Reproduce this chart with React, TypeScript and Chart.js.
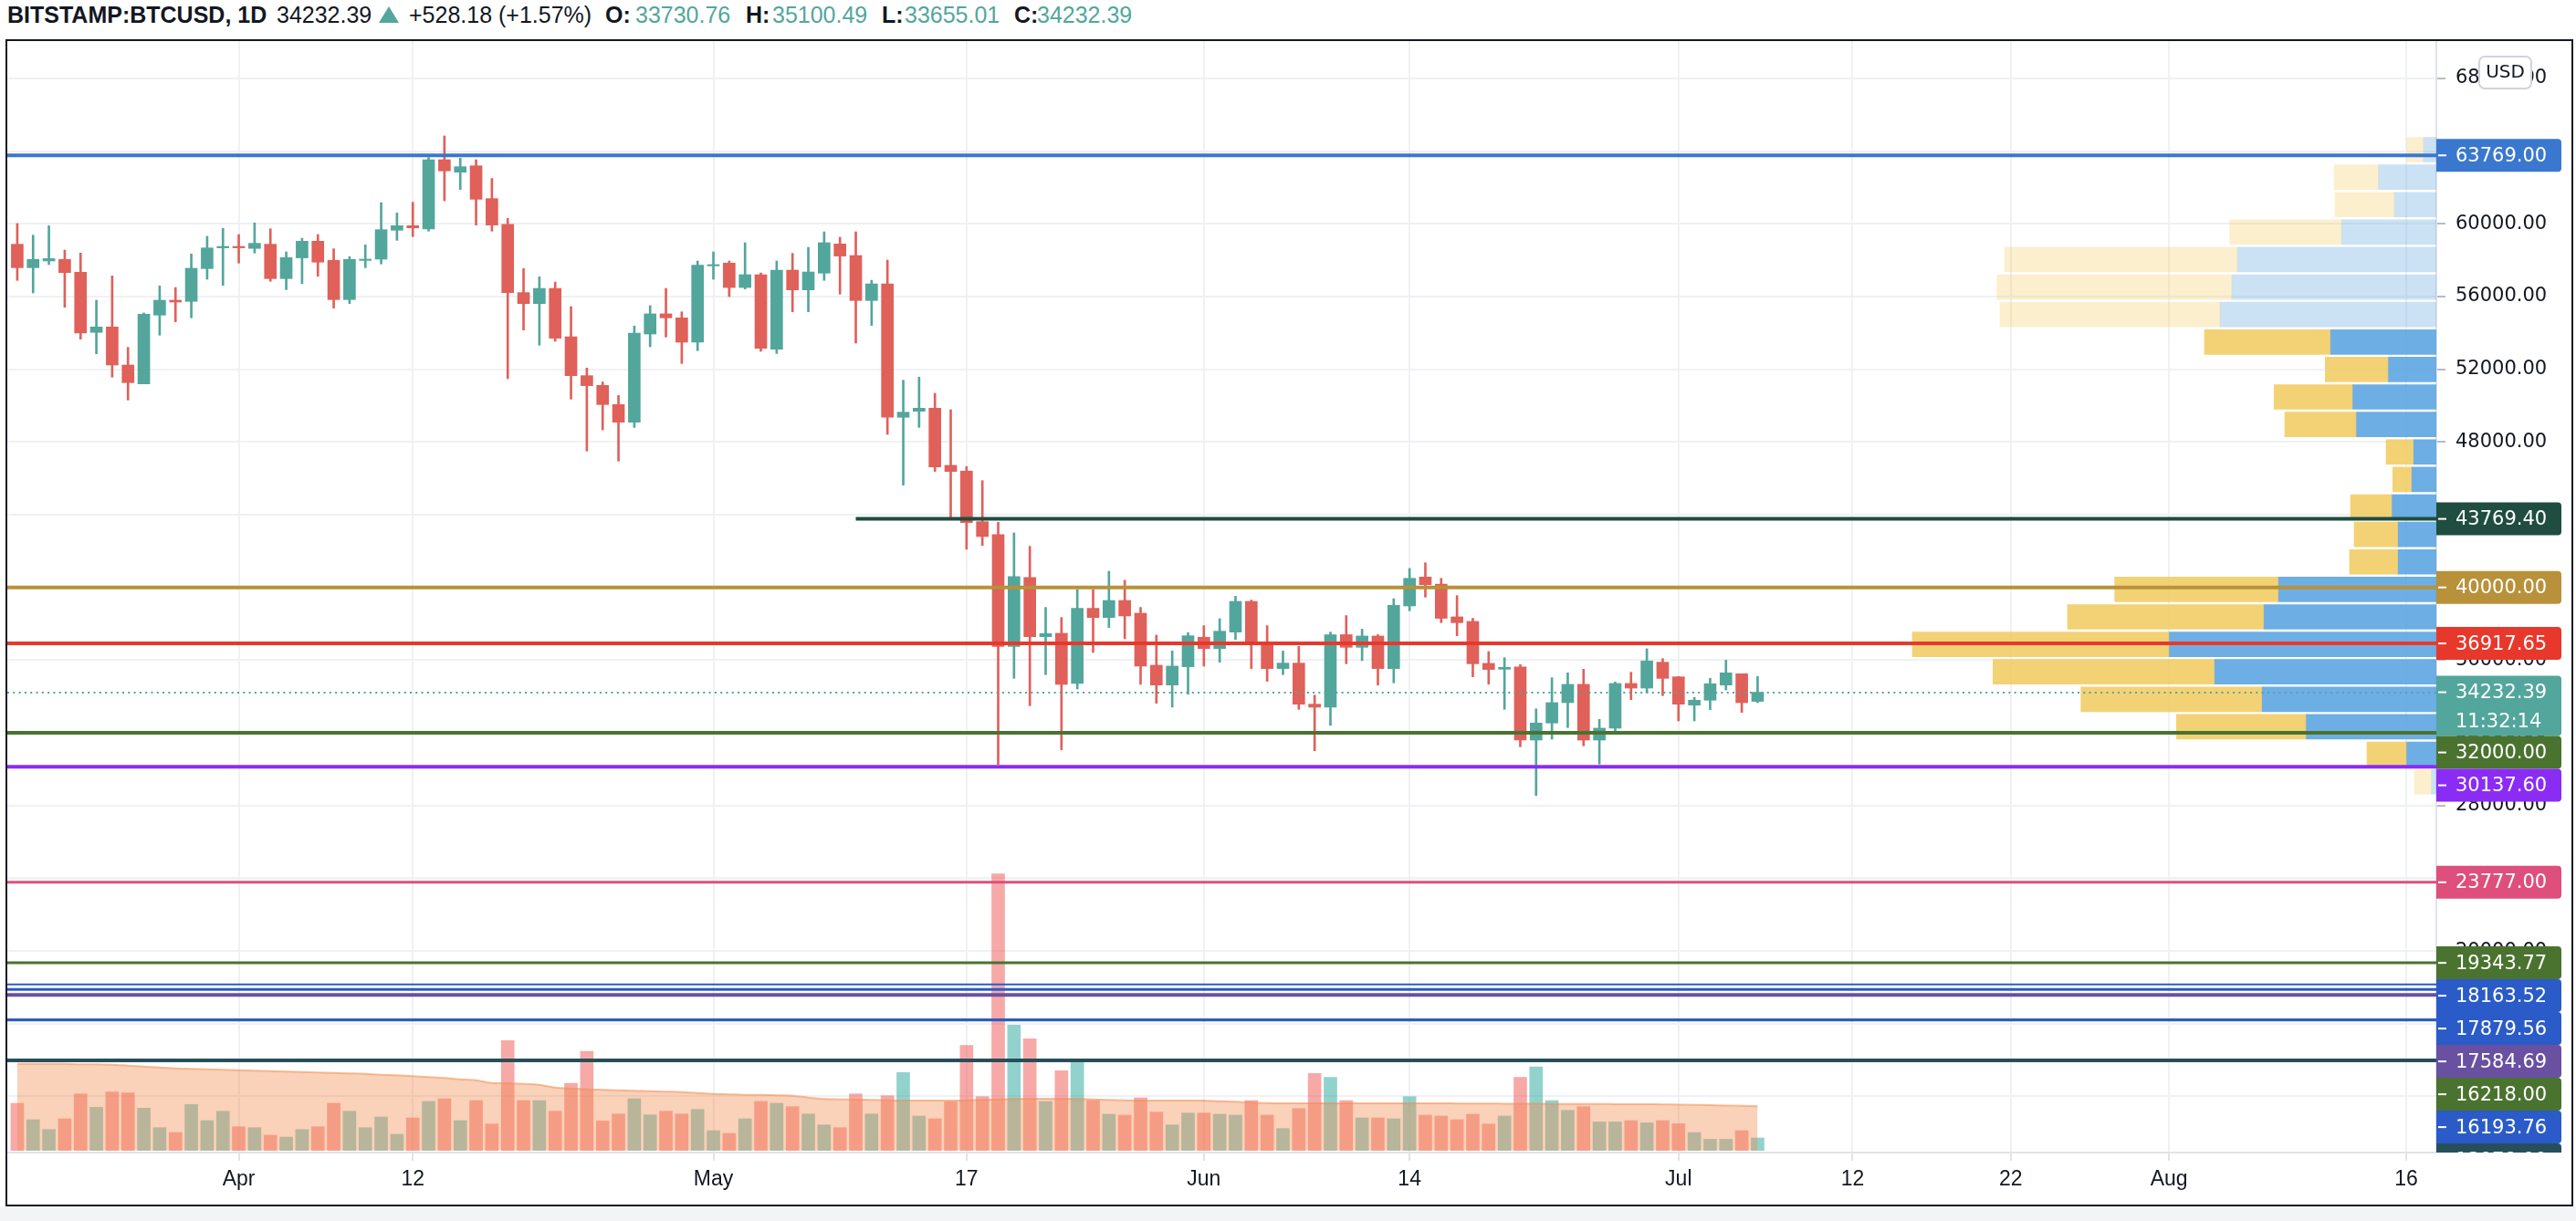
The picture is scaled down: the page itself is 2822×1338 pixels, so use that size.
import React, { useEffect, useRef } from 'react';
import { Chart, registerables } from 'chart.js';

Chart.register(...registerables);

// ---------- DATA ----------
const FIRST_DAY = -14; // Mar 18, counted in days from Apr 1
const OPEN = [
  58880, 57590, 57960, 58045, 57340, 54030, 54330, 52235, 51195, 54980, 55800, 55735, 57540, 58680,
  58760, 58650, 58880, 56990, 58130, 59045, 57995, 55835, 57990, 58060, 59650, 59900, 59715, 63530, 62845, 63195,
  61390, 59980, 56220, 55615, 56450, 53790, 51650, 51115, 50060, 49090, 53940, 55050, 54830, 53490,
  57690, 57845, 56500, 57205, 53100, 57455, 56370, 57290, 58895, 58260, 55785, 56700, 49360, 49690, 49860,
  46715, 46400, 43615, 42900, 36755, 40550, 37290, 37475, 34715, 38850, 38345, 39280, 38580, 35720, 34630, 35635,
  37255, 36635, 37540, 39230, 36885, 35535, 35835, 33575, 33410, 37400, 36705, 37325, 35535, 38980, 40570,
  40180, 38380, 38130, 35820, 35500, 35620, 31600, 32540, 33660, 34665, 31600, 32255, 34715, 34460, 35885,
  35080, 33525, 33795, 34630, 35250, 33730.76,
];
const HIGH = [
  60020, 59380, 59900, 58560, 58395, 55800, 57140, 53205, 55100, 56590, 56500, 58345, 59315, 59750,
  59415, 60050, 59730, 58460, 59214, 59415, 58630, 58200, 58845, 61172, 60605, 61190, 63650, 64840, 63615, 63530,
  62500, 60300, 57540, 57090, 56800, 55450, 52070, 51300, 50560, 54380, 55500, 56450, 55160, 57960,
  58460, 57960, 58963, 57300, 57960, 58380, 58710, 59565, 59265, 59565, 56900, 58010, 51400, 51570, 50680,
  49775, 46650, 45875, 43585, 43000, 42260, 38900, 38345, 39885, 39885, 40890, 40390, 38900, 37375, 36505, 37510,
  37895, 38280, 39515, 39300, 37895, 36500, 36755, 34075, 37540, 38450, 37700, 37400, 39380, 41040, 41355,
  40500, 39550, 38300, 36470, 36135, 35750, 33320, 35030, 35300, 35500, 32740, 34800, 35330, 36620, 36085,
  35100, 33950, 35000, 36000, 35250, 35100.49,
];
const LOW = [
  56890, 56200, 57760, 55410, 53660, 52850, 51570, 50310, 51195, 53876, 54610, 54830, 56955, 56620,
  57845, 58395, 56840, 56385, 56720, 57120, 55365, 55616, 57590, 57795, 59095, 59300, 59600, 61270, 61890, 59935,
  59600, 51482, 54160, 53325, 53540, 50360, 47500, 48670, 46950, 48800, 53240, 53775, 52320, 53025,
  56955, 56000, 56420, 52990, 52870, 55160, 55160, 56890, 56135, 53440, 54410, 48420, 45625, 48805, 46380,
  43800, 42100, 42300, 30260, 35000, 33490, 35200, 31065, 34410, 36420, 37790, 37175, 34665, 33625, 33410, 34125,
  35670, 35885, 37140, 35535, 34835, 35200, 33290, 31015, 32405, 35800, 35970, 34630, 34750, 38715, 39465,
  38060, 37340, 35080, 34670, 33290, 31235, 28555, 31650, 32290, 31285, 30280, 32100, 33825, 34210, 34045,
  32655, 32655, 33275, 34360, 33125, 33655.01,
];
const CLOSE = [
  57590, 58045, 58090, 57320, 53990, 54330, 52235, 51266, 55030, 55800, 55700, 57557, 58677, 58760,
  58680, 58930, 56990, 58145, 59045, 57895, 55835, 58045, 58060, 59680, 59900, 59780, 63530, 62915, 63145, 61355,
  59935, 56220, 55615, 56450, 53710, 51650, 51100, 50060, 49090, 53990, 55050, 54830, 53490, 57725,
  57760, 56500, 57205, 53160, 57455, 56370, 57355, 58963, 58230, 55785, 56700, 49360, 49640, 49860, 46630,
  46380, 43565, 42800, 36755, 40600, 37290, 37460, 34665, 38850, 38345, 39280, 38430, 35670, 34630, 35670, 37340,
  36635, 37590, 39230, 36885, 35535, 35835, 33575, 33410, 37400, 36705, 37325, 35535, 39015, 40500, 40150,
  38300, 38060, 35800, 35485, 35600, 31600, 32540, 33660, 34665, 31600, 32255, 34715, 34460, 35955, 34995,
  33575, 33795, 34700, 35300, 33660, 34232.39,
];
const VOLUME = [
  5170, 3370, 2300, 3470, 6200, 4730, 6400, 6300, 4630, 2500, 1970, 5030, 3270, 4300,
  2600, 2500, 1670, 1470, 2300, 2600, 5170, 4300, 2500, 3670, 1770, 3570, 5370, 5670, 3270, 5470,
  2900, 12030, 5470, 5470, 4300, 7370, 10870, 3230, 4000, 5670, 3900, 4300, 4000, 4500,
  2170, 1870, 3470, 5370, 5170, 4800, 4000, 2800, 2500, 6200, 4000, 6000, 8530,
  3770, 3470, 5330, 11500, 5900, 30300, 13730, 12230, 5370, 8730, 9670, 5470, 3970, 3870, 5770, 4200, 2800, 4100,
  4100, 3970, 3870, 5470, 3870, 2400, 4600, 8430, 8000, 5470, 3570, 3570, 3470, 5900, 3870,
  3770, 3370, 3970, 2900, 3770, 8000, 9170, 5470, 4400, 4800, 3130, 3130, 3270, 3030, 3270,
  2930, 1970, 1230, 1230, 2170, 1370,
];
const VOLUME_MA = [
  9500, 9500, 9500, 9500, 9450, 9450, 9400, 9300, 9200, 9100, 9000, 8950, 8900, 8850, 8800,
  8750, 8700, 8650, 8600, 8550, 8500, 8450, 8400, 8300, 8250, 8150, 8050, 7950, 7800, 7700,
  7400, 7350, 7300, 7200, 6900, 6800, 6700, 6650, 6600, 6550, 6500, 6450, 6400, 6300, 6200,
  6150, 6100, 6100, 6050, 6000, 5800, 5650, 5600, 5570, 5550, 5500, 5470, 5470, 5470, 5470,
  5500, 5550, 5600, 5650, 5670, 5670, 5670, 5650, 5600, 5550, 5500, 5470, 5470, 5470, 5470,
  5470, 5400, 5350, 5250, 5200, 5170, 5170, 5170, 5170, 5170, 5170, 5170, 5170, 5170, 5170,
  5170, 5150, 5150, 5150, 5130, 5130, 5120, 5100, 5100, 5100, 5100, 5080, 5070, 5070, 5050,
  5030, 5000, 4970, 4930, 4900, 4850,
];

const X_TICK_DAYS = [0, 11, 30, 46, 61, 74, 91, 102, 112, 122, 137];
const X_TICK_LABELS = ['Apr', '12', 'May', '17', 'Jun', '14', 'Jul', '12', '22', 'Aug', '16'];
const PRICE_TICKS = [12000, 16000, 20000, 24000, 28000, 32000, 36000, 40000, 44000, 48000, 52000, 56000, 60000, 64000, 68000];

// visible range volume profile (price rows, up / down volume)
const VP_PRICES = [64084, 62572, 61060, 59548, 58036, 56524, 55012, 53500, 51988, 50476, 48964, 47452,
  45940, 44428, 42916, 41404, 39892, 38380, 36868, 35356, 33844, 32332, 30820, 29308];
const VP_UP = [140, 633, 460, 1037, 2180, 2240, 2370, 1163, 530, 920, 880, 253, 273, 490, 423, 423, 1733, 1893, 2930, 2433, 1913, 1430, 330, 53];
const VP_DOWN = [183, 487, 650, 1226, 2550, 2573, 2410, 1377, 687, 857, 780, 297, 204, 450, 477, 527, 1790, 2147, 2810, 2424, 1980, 1417, 430, 187];
const VP_IN_VALUE_AREA = [false, false, false, false, false, false, false, true, true, true, true, true,
  true, true, true, true, true, true, true, true, true, true, true, false];

// horizontal levels
const LEVEL_VALUES = [63769, 43769.4, 40000, 36917.65, 32000, 30137.6, 23777, 19343.77, 18163.52, 17879.56, 17584.69, 16218, 16193.76, 13978];
const LEVEL_COLORS = ['#3a78cf', '#1f4d3f', '#b8913a', '#e8382c', '#4a7330', '#8b2cf5', '#de4f7b', '#4a7330', '#2a5bc8', '#2a5bc8', '#6950a1', '#4a7330', '#2a5bc8', '#264f5a'];
const LEVEL_WIDTHS = [4, 4, 4, 4, 4, 4, 3, 3, 2, 3, 4, 3, 3, 4];
const LEVEL_START_DAY: (number | null)[] = [null, 39, null, null, null, null, null, null, null, null, null, null, null, null];

const LAST_PRICE = 34232.39;
const COUNTDOWN = '11:32:14';

// ---------- STYLE ----------
const UP = '#53a69b';
const DOWN = '#e0605a';
const GRID = '#eff1f4';
const TEXT = '#131722';
const W = 2809;
const H = 1275;
const XMIN = -14.63;
const XMAX = 138.9;
const YMIN = 8907;
const YMAX = 70058;
const VOL_MIN = -230;
const VOL_MAX = 121570;
const VP_MAX = 26610;

const isUp = CLOSE.map((c, i) => c >= OPEN[i]);
const candleColors = isUp.map((u) => (u ? UP : DOWN));

const levelsPlugin = {
  id: 'levels',
  afterDatasetsDraw(chart: any) {
    const { ctx, chartArea, scales } = chart;
    const { left, right, top, bottom } = chartArea;
    const x = scales.x;
    const y = scales.y;
    ctx.save();
    ctx.beginPath();
    ctx.rect(left, top, right - left, bottom - top);
    ctx.clip();
    const lp = Math.round(y.getPixelForValue(LAST_PRICE));
    ctx.strokeStyle = UP;
    ctx.lineWidth = 2;
    ctx.setLineDash([2, 4.3]);
    ctx.beginPath();
    ctx.moveTo(left, lp);
    ctx.lineTo(right, lp);
    ctx.stroke();
    ctx.setLineDash([]);
    LEVEL_VALUES.forEach((v, i) => {
      const py = y.getPixelForValue(v);
      const sd = LEVEL_START_DAY[i];
      const sx = sd == null ? left : x.getPixelForValue(sd);
      ctx.strokeStyle = LEVEL_COLORS[i];
      ctx.lineWidth = LEVEL_WIDTHS[i];
      ctx.beginPath();
      ctx.moveTo(sx, py);
      ctx.lineTo(right, py);
      ctx.stroke();
    });
    ctx.restore();
  },
  afterDraw(chart: any) {
    const { ctx, chartArea, scales } = chart;
    const y = scales.y;
    const right = chartArea.right;
    const items: { v: number; color: string; t1: string; t2?: string }[] = LEVEL_VALUES.map((v, i) => ({
      v,
      color: LEVEL_COLORS[i],
      t1: v.toFixed(2),
    }));
    items.push({ v: LAST_PRICE, color: UP, t1: LAST_PRICE.toFixed(2), t2: COUNTDOWN });
    const placed = items
      .map((it) => ({ ...it, py: y.getPixelForValue(it.v) }))
      .sort((a, b) => a.py - b.py);
    ctx.save();
    ctx.beginPath();
    ctx.rect(0, 0, chart.width, chartArea.bottom);
    ctx.clip();
    let prevBottom = -1e9;
    const boxW = 137;
    ctx.font = '21px "DejaVu Sans"';
    ctx.textBaseline = 'middle';
    ctx.textAlign = 'left';
    placed.forEach((it) => {
      const h = it.t2 ? 66 : 36;
      let topY = it.py - 18;
      if (topY < prevBottom) topY = prevBottom;
      prevBottom = topY + h;
      ctx.fillStyle = it.color;
      ctx.beginPath();
      ctx.roundRect(right, topY, boxW, h, [0, 4, 4, 0]);
      ctx.fill();
      ctx.strokeStyle = '#ffffff';
      ctx.lineWidth = 2;
      ctx.beginPath();
      ctx.moveTo(right + 2, topY + 18);
      ctx.lineTo(right + 11, topY + 18);
      ctx.stroke();
      ctx.fillStyle = '#ffffff';
      ctx.fillText(it.t1, right + 21, topY + 19);
      if (it.t2) ctx.fillText(it.t2, right + 21, topY + 51);
    });
    ctx.restore();
    ctx.save();
    ctx.fillStyle = '#ffffff';
    ctx.strokeStyle = '#d1d4dc';
    ctx.lineWidth = 2;
    ctx.beginPath();
    ctx.roundRect(right + 47, 17, 57, 35, 6);
    ctx.fill();
    ctx.stroke();
    ctx.fillStyle = TEXT;
    ctx.font = '20px "DejaVu Sans"';
    ctx.textAlign = 'center';
    ctx.textBaseline = 'middle';
    ctx.fillText('USD', right + 75.5, 35);
    ctx.restore();
  },
};

export default function App() {
  const ref = useRef<HTMLCanvasElement>(null);

  useEffect(() => {
    const canvas = ref.current;
    if (!canvas) return;
    const chart = new Chart(canvas, {
      type: 'bar',
      data: {
        datasets: [
          {
            type: 'bar',
            label: 'VP up',
            indexAxis: 'y',
            xAxisID: 'xvp',
            yAxisID: 'y',
            data: VP_PRICES.map((p, i) => ({ y: p, x: [0, VP_UP[i]] })),
            backgroundColor: VP_IN_VALUE_AREA.map((v) => (v ? 'rgba(84,160,223,0.85)' : 'rgba(84,160,223,0.3)')),
            borderWidth: 0,
            barThickness: 27,
            grouped: false,
            order: 7,
          } as any,
          {
            type: 'bar',
            label: 'VP down',
            indexAxis: 'y',
            xAxisID: 'xvp',
            yAxisID: 'y',
            data: VP_PRICES.map((p, i) => ({ y: p, x: [VP_UP[i], VP_UP[i] + VP_DOWN[i]] })),
            backgroundColor: VP_IN_VALUE_AREA.map((v) => (v ? 'rgba(241,202,94,0.85)' : 'rgba(241,202,94,0.3)')),
            borderWidth: 0,
            barThickness: 27,
            grouped: false,
            order: 6,
          } as any,
          {
            type: 'bar',
            label: 'Volume',
            xAxisID: 'x',
            yAxisID: 'yv',
            data: VOLUME.map((v, i) => ({ x: FIRST_DAY + i, y: v })),
            backgroundColor: isUp.map((u) => (u ? 'rgba(38,166,154,0.5)' : 'rgba(239,83,80,0.5)')),
            borderWidth: 0,
            barThickness: 14,
            grouped: false,
            order: 5,
          } as any,
          {
            type: 'line',
            label: 'Volume MA',
            xAxisID: 'x',
            yAxisID: 'yv',
            data: VOLUME_MA.map((v, i) => ({ x: FIRST_DAY + i, y: v })),
            borderColor: 'rgba(242,140,80,0.55)',
            borderWidth: 2,
            backgroundColor: 'rgba(242,140,80,0.4)',
            fill: 'origin',
            pointRadius: 0,
            tension: 0.3,
            order: 4,
          } as any,
          {
            type: 'bar',
            label: 'Wick',
            xAxisID: 'x',
            yAxisID: 'y',
            data: LOW.map((l, i) => ({ x: FIRST_DAY + i, y: [l, HIGH[i]] })),
            backgroundColor: candleColors,
            borderWidth: 0,
            barThickness: 2,
            grouped: false,
            order: 3,
          } as any,
          {
            type: 'bar',
            label: 'Body',
            xAxisID: 'x',
            yAxisID: 'y',
            data: OPEN.map((o, i) => ({ x: FIRST_DAY + i, y: [o, CLOSE[i]] })),
            backgroundColor: candleColors,
            borderWidth: 0,
            barThickness: 13,
            grouped: false,
            order: 2,
          } as any,
        ],
      },
      options: {
        animation: false,
        responsive: false,
        devicePixelRatio: 1,
        events: [],
        layout: { padding: 0, autoPadding: false },
        plugins: { legend: { display: false }, tooltip: { enabled: false } },
        scales: {
          x: {
            type: 'linear',
            position: 'bottom',
            min: XMIN,
            max: XMAX,
            offset: false,
            bounds: 'data',
            grid: { color: GRID, lineWidth: 2, offset: false, drawTicks: true, tickLength: 9, tickColor: '#e0e3eb' },
            border: { color: '#e0e3eb', width: 2 },
            ticks: {
              autoSkip: false,
              maxRotation: 0,
              padding: 7,
              color: TEXT,
              font: { family: '"Liberation Sans", Arial, sans-serif', size: 23 },
              callback: (v: any) => {
                const idx = X_TICK_DAYS.indexOf(Number(v));
                return idx >= 0 ? X_TICK_LABELS[idx] : '';
              },
            },
            afterBuildTicks: (s: any) => {
              s.ticks = X_TICK_DAYS.map((v) => ({ value: v }));
            },
            afterFit: (s: any) => {
              s.height = 57;
              s.paddingLeft = 0;
              s.paddingRight = 0;
            },
          },
          xvp: {
            type: 'linear',
            axis: 'x',
            display: false,
            min: 0,
            max: VP_MAX,
            reverse: true,
            offset: false,
            beginAtZero: false,
            grid: { offset: false },
          },
          y: {
            type: 'linear',
            position: 'right',
            min: YMIN,
            max: YMAX,
            offset: false,
            beginAtZero: false,
            bounds: 'data',
            grid: { color: GRID, lineWidth: 2, offset: false, drawTicks: true, tickLength: 10, tickColor: '#b8bbc3' },
            border: { color: '#e0e3eb', width: 2 },
            ticks: {
              autoSkip: false,
              padding: 11,
              color: TEXT,
              font: { family: '"DejaVu Sans", sans-serif', size: 21 },
              callback: (v: any) => Number(v).toFixed(2),
            },
            afterBuildTicks: (s: any) => {
              s.ticks = PRICE_TICKS.map((v) => ({ value: v }));
            },
            afterFit: (s: any) => {
              s.width = 148;
              s.paddingTop = 0;
              s.paddingBottom = 0;
            },
          },
          yv: {
            type: 'linear',
            axis: 'y',
            display: false,
            offset: false,
            min: VOL_MIN,
            max: VOL_MAX,
          },
        } as any,
      },
      plugins: [levelsPlugin],
    } as any);
    return () => chart.destroy();
  }, []);

  const head: React.CSSProperties = {
    position: 'absolute',
    top: 4,
    lineHeight: '25px',
    fontSize: 25,
    whiteSpace: 'nowrap',
    color: TEXT,
  };
  const val: React.CSSProperties = { ...head, color: UP };
  const bold: React.CSSProperties = { ...head, fontWeight: 700 };

  return (
    <div
      style={{
        position: 'absolute',
        left: 0,
        top: 0,
        width: 2822,
        height: 1338,
        background: '#ffffff',
        overflow: 'hidden',
        fontFamily: '"Liberation Sans", Arial, sans-serif',
      }}
    >
      <span style={{ ...bold, left: 8 }}>BITSTAMP:BTCUSD, 1D</span>
      <span style={{ ...head, left: 303 }}>34232.39</span>
      <span
        style={{
          position: 'absolute',
          left: 415,
          top: 7,
          width: 0,
          height: 0,
          borderLeft: '11.5px solid transparent',
          borderRight: '11.5px solid transparent',
          borderBottom: `18px solid ${UP}`,
        }}
      />
      <span style={{ ...head, left: 448 }}>+528.18 (+1.57%)</span>
      <span style={{ ...bold, left: 663 }}>O:</span>
      <span style={{ ...val, left: 696 }}>33730.76</span>
      <span style={{ ...bold, left: 817 }}>H:</span>
      <span style={{ ...val, left: 846 }}>35100.49</span>
      <span style={{ ...bold, left: 966 }}>L:</span>
      <span style={{ ...val, left: 991 }}>33655.01</span>
      <span style={{ ...bold, left: 1111 }}>C:</span>
      <span style={{ ...val, left: 1136 }}>34232.39</span>
      <div
        style={{
          position: 'absolute',
          left: 6,
          top: 43,
          width: 2813,
          height: 1279,
          border: '2px solid #131722',
          boxSizing: 'border-box',
          background: '#ffffff',
        }}
      >
        <canvas ref={ref} width={W} height={H} style={{ display: 'block', width: W, height: H }} />
      </div>
      <div style={{ position: 'absolute', left: 0, top: 1322, width: 2822, height: 16, background: '#f3f4f6' }} />
    </div>
  );
}
